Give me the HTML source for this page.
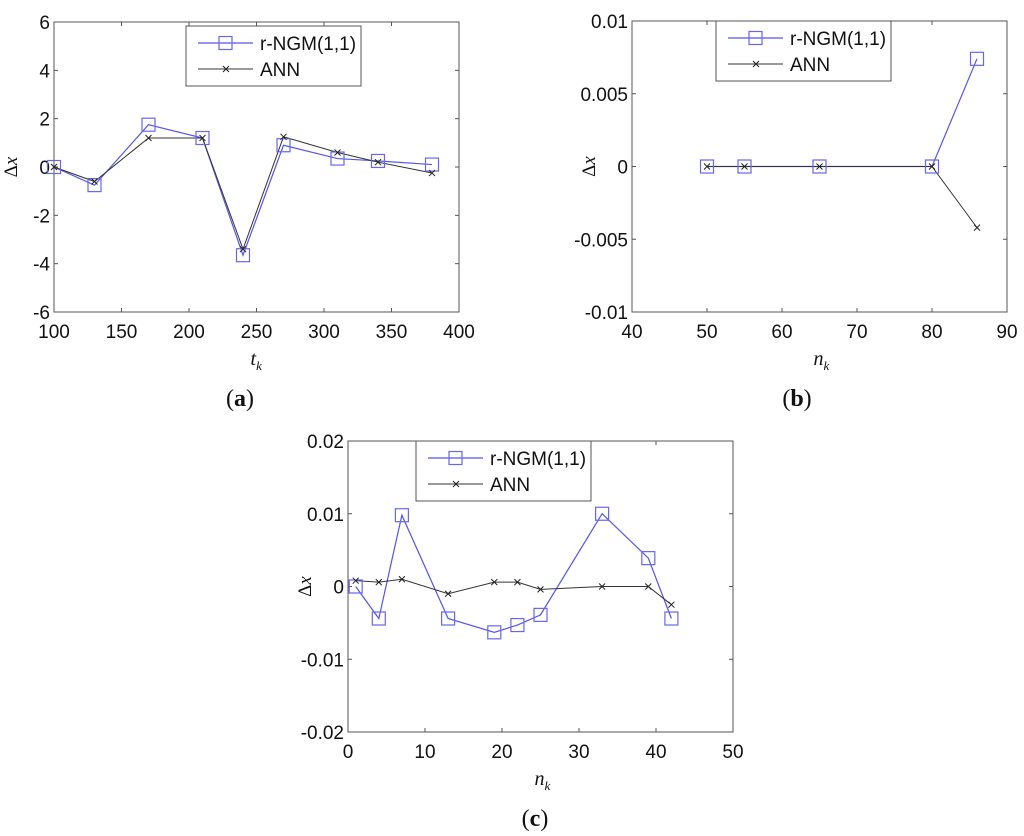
<!DOCTYPE html>
<html><head><meta charset="utf-8"><style>
body{margin:0;background:#fff;}
svg{display:block;font-family:"Liberation Sans",Arial,sans-serif;}
</style></head><body>
<svg id="s" width="1024" height="836" xmlns="http://www.w3.org/2000/svg"></svg>
<script>
const aX=[100,130,170,210,240,270,310,340,380];
const aR=[0,-0.75,1.75,1.2,-3.65,0.9,0.35,0.25,0.1];
const aA=[0,-0.6,1.2,1.2,-3.4,1.25,0.6,0.2,-0.25];
const bX=[50,55,65,80,86];
const bR=[0,0,0,0,0.0074];
const bA=[0,0,0,0,-0.0042];
const cX=[1,4,7,13,19,22,25,33,39,42];
const cR=[0,-0.0044,0.0098,-0.0044,-0.0063,-0.0053,-0.0039,0.0100,0.0039,-0.0044];
const cA=[0.0008,0.0006,0.001,-0.001,0.0006,0.0006,-0.0004,0,0,-0.0025];
const aXT=["100","150","200","250","300","350","400"];
const aYT=["-6","-4","-2","0","2","4","6"];
const bXT=["40","50","60","70","80","90"];
const bYT=["-0.01","-0.005","0","0.005","0.01"];
const cXT=["0","10","20","30","40","50"];
const cYT=["-0.02","-0.01","0","0.01","0.02"];

const S=document.getElementById('s');
const NS='http://www.w3.org/2000/svg';
function mk(tag,attrs,parent,txt){const e=document.createElementNS(NS,tag);for(const k in attrs)e.setAttribute(k,attrs[k]);if(txt!==undefined)e.textContent=txt;(parent||S).appendChild(e);return e;}

function chart(id,L,R,T,B,xmin,xmax,ymin,ymax,xt,yt,xs,rs,as,leg,xlab,cap,capx){
  const g=mk('g',{});
  
  
  const sx=v=>L+(v-xmin)/(xmax-xmin)*(R-L);
  const sy=v=>B-(v-ymin)/(ymax-ymin)*(B-T);
  const box=mk('rect',{x:L,y:T,width:R-L,height:B-T,fill:'none',stroke:'#555','stroke-width':1},g);
  
  
  xt.forEach(t=>{const x=sx(+t);
    mk('line',{x1:x,y1:B,x2:x,y2:B-4,stroke:'#555'},g);mk('line',{x1:x,y1:T,x2:x,y2:T+4,stroke:'#555'},g);
    const e=mk('text',{x:x,y:B+26,'font-size':19,'text-anchor':'middle',fill:'#111'},g,t);
    
    });
  yt.forEach(t=>{const y=sy(+t);
    mk('line',{x1:L,y1:y,x2:L+4,y2:y,stroke:'#555'},g);mk('line',{x1:R,y1:y,x2:R-4,y2:y,stroke:'#555'},g);
    const e=mk('text',{x:L-4,y:y+7,'font-size':19,'text-anchor':'end',fill:'#111'},g,t);
    
    });
  const pr=xs.map((x,i)=>sx(x)+','+sy(rs[i])).join(' ');
  const l1=mk('polyline',{points:pr,fill:'none',stroke:'#5555ee','stroke-width':1.2},g);
  
  
  const pa=xs.map((x,i)=>sx(x)+','+sy(as[i])).join(' ');
  const l2=mk('polyline',{points:pa,fill:'none',stroke:'#333','stroke-width':1},g);
  
  
  xs.forEach((x,i)=>{
    const m=mk('rect',{x:sx(x)-6.5,y:sy(rs[i])-6.5,width:13,height:13,fill:'none',stroke:'#6666ee','stroke-width':1.2},g);
    
    
    const px=sx(x),py=sy(as[i]);
    const c=mk('path',{d:`M${px-3},${py-3}L${px+3},${py+3}M${px-3},${py+3}L${px+3},${py-3}`,stroke:'#222','stroke-width':1},g);
    
    
  });
  const lg=mk('g',{},g);
  
  
  const [lx,ly]=leg;
  mk('rect',{x:lx,y:ly,width:175,height:60,fill:'#fff',stroke:'#555'},lg);
  mk('line',{x1:lx+12,y1:ly+17,x2:lx+67,y2:ly+17,stroke:'#5555ee','stroke-width':1.2},lg);
  mk('rect',{x:lx+33,y:ly+10.5,width:13,height:13,fill:'none',stroke:'#6666ee','stroke-width':1.2},lg);
  const t1=mk('text',{x:lx+74,y:ly+24,'font-size':19,fill:'#111'},lg,'r-NGM(1,1)');
  
  
  mk('line',{x1:lx+12,y1:ly+43,x2:lx+67,y2:ly+43,stroke:'#333'},lg);
  mk('path',{d:`M${lx+37},${ly+40}L${lx+43},${ly+46}M${lx+37},${ly+46}L${lx+43},${ly+40}`,stroke:'#222'},lg);
  const t2=mk('text',{x:lx+74,y:ly+50,'font-size':19,fill:'#111'},lg,'ANN');
  
  
  const yl=mk('text',{x:0,y:0,'font-size':19,'font-family':'Liberation Serif,serif',transform:`translate(${L-37},${(T+B)/2}) rotate(-90)`,'text-anchor':'middle',fill:'#111'},g);
  yl.innerHTML='Δ<tspan font-style="italic">x</tspan>';
  
  
  const xl=mk('text',{x:(L+R)/2-6,y:B+53,'font-size':20,'font-family':'Liberation Serif,serif','font-style':'italic',fill:'#111'},g);
  xl.innerHTML=xlab+'<tspan font-size="13" dy="5">k</tspan>';
  
  
  const cp=mk('text',{x:capx,y:B+94,'font-size':24,'font-family':'Liberation Serif,serif','text-anchor':'middle',fill:'#111'},g);
  cp.innerHTML='(<tspan font-weight="bold">'+cap+'</tspan>)';
  
  
}
chart('a',54,459,22,312,100,400,-6,6,aXT,aYT,aX,aR,aA,[186,26],'t','a',240);
chart('b',632,1007,21,312,40,90,-0.01,0.01,bXT,bYT,bX,bR,bA,[716,21],'n','b',797);
chart('c',348,733,441,732,0,50,-0.02,0.02,cXT,cYT,cX,cR,cA,[416,441],'n','c',535);
</script>
</body></html>
